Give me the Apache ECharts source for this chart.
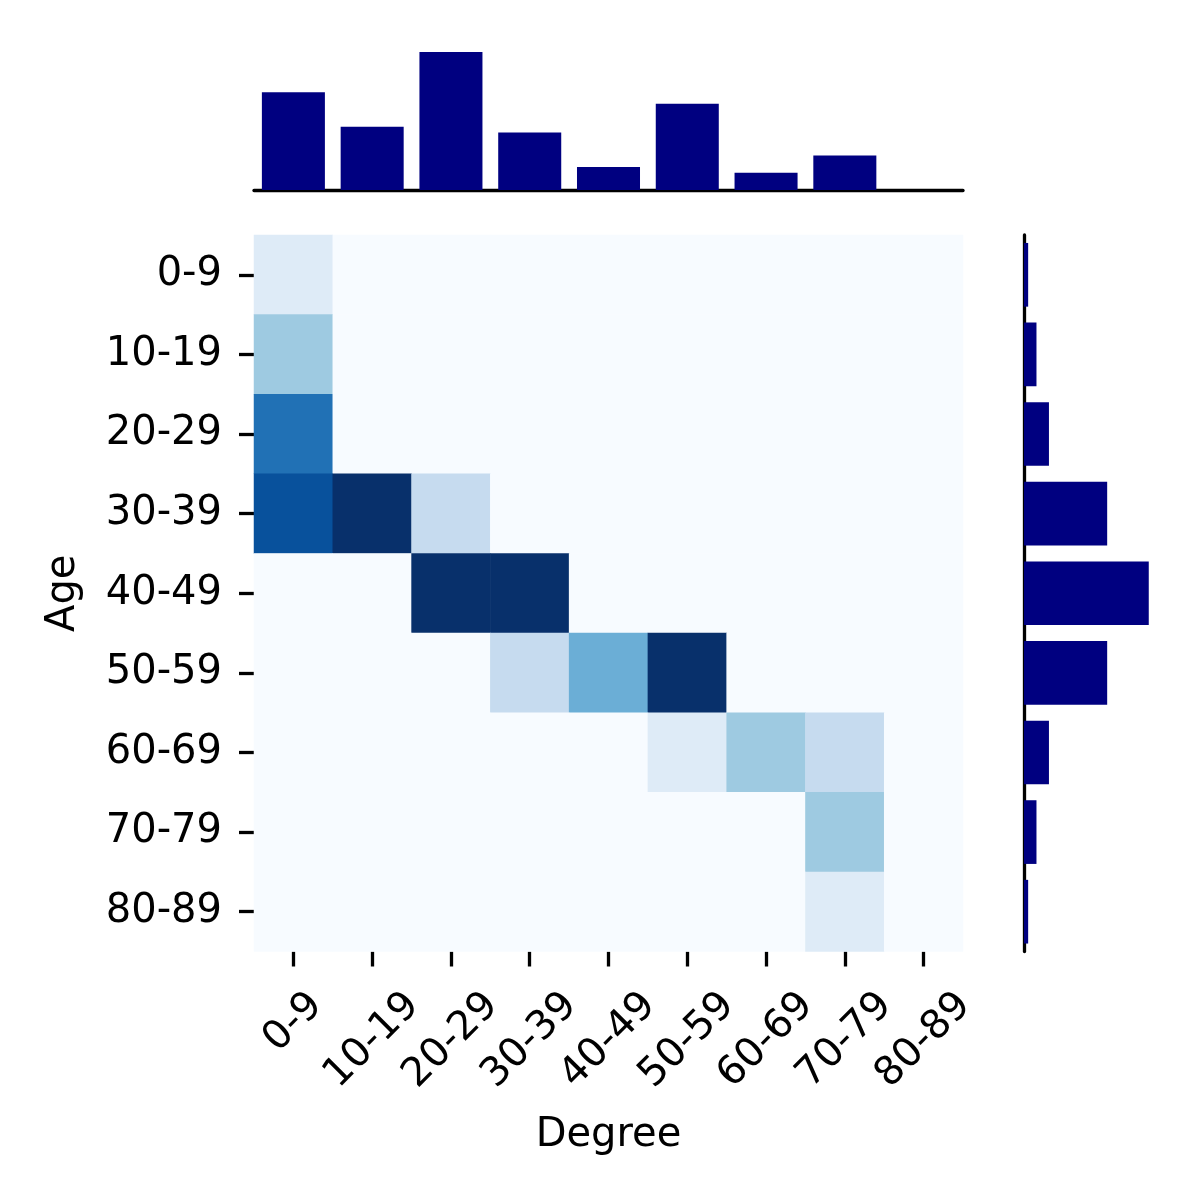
<!DOCTYPE html>
<html><head><meta charset="utf-8">
<script src="https://cdn.jsdelivr.net/npm/echarts@6/dist/echarts.min.js"></script>
<style>html,body{margin:0;padding:0;background:#fff}#c{width:1200px;height:1200px}</style>
</head><body><div id="c"></div>
<script>
// ---- data ----
const degreeLabels = ['0-9','10-19','20-29','30-39','40-49','50-59','60-69','70-79','80-89'];
const ageLabels    = ['0-9','10-19','20-29','30-39','40-49','50-59','60-69','70-79','80-89'];
// counts[ageRow][degreeCol]
const row0_9   = [1, 0, 0, 0, 0, 0, 0, 0, 0];
const row10_19 = [3, 0, 0, 0, 0, 0, 0, 0, 0];
const row20_29 = [6, 0, 0, 0, 0, 0, 0, 0, 0];
const row30_39 = [7, 11, 2, 0, 0, 0, 0, 0, 0];
const row40_49 = [0, 0, 22, 8, 0, 0, 0, 0, 0];
const row50_59 = [0, 0, 0, 2, 4, 14, 0, 0, 0];
const row60_69 = [0, 0, 0, 0, 0, 1, 3, 2, 0];
const row70_79 = [0, 0, 0, 0, 0, 0, 0, 3, 0];
const row80_89 = [0, 0, 0, 0, 0, 0, 0, 1, 0];
const counts = [row0_9,row10_19,row20_29,row30_39,row40_49,row50_59,row60_69,row70_79,row80_89];
const vmax = 8;
const blues = ['#f7fbff','#deebf7','#c6dbef','#9ecae1','#6baed6','#4292c6','#2171b5','#08519c','#08306b'];
const barColor = '#000080';

// ---- derived ----
const heatData = [];
counts.forEach((row, r) => row.forEach((v, c) => heatData.push([c, r, Math.min(v, vmax)])));
const colSums = degreeLabels.map((_, c) => counts.reduce((s, row) => s + row[c], 0));
const rowSums = counts.map(row => row.reduce((s, v) => s + v, 0));

const FONT = 'DejaVu Sans';
const FS = 40;
const cv = document.createElement('canvas').getContext('2d');
cv.font = FS + 'px "' + FONT + '"';
const rich = {};
degreeLabels.forEach((lab, i) => {
  const q = cv.measureText(lab).width / 2;
  rich['l' + i] = { fontSize: FS, fontFamily: FONT, color: '#000', padding: [q, q, 0, 0] };
});

const chart = echarts.init(document.getElementById('c'), null, { renderer: 'canvas' });
const lw = 3.3;
chart.setOption({
  animation: false,
  backgroundColor: '#fff',
  textStyle: { fontFamily: FONT },
  grid: [
    { left: 254, top: 235, width: 709, height: 716.5 },   // heatmap
    { left: 254, top: 45, width: 709, height: 145 },      // top marginal
    { left: 1024, top: 235, width: 131, height: 716.5 }   // right marginal
  ],
  xAxis: [
    { gridIndex: 0, type: 'category', data: degreeLabels,
      name: 'Degree', nameLocation: 'middle', nameGap: 164,
      nameTextStyle: { fontSize: FS, fontFamily: FONT, color: '#000' },
      axisLine: { show: false },
      axisTick: { show: true, alignWithLabel: true, length: 15, interval: 0, lineStyle: { color: '#000', width: lw } },
      axisLabel: { interval: 0, rotate: 45, align: 'center', verticalAlign: 'middle', margin: 48,
        fontSize: FS, fontFamily: FONT, color: '#000',
        formatter: (v, i) => '{l' + i + '|' + v + '}', rich: rich },
      splitLine: { show: false } },
    { gridIndex: 1, type: 'category', data: degreeLabels,
      axisLine: { show: true, lineStyle: { color: '#000', width: lw } },
      axisTick: { show: false }, axisLabel: { show: false }, splitLine: { show: false } },
    { gridIndex: 2, type: 'value', min: 0, max: Math.max(...rowSums) * 1.05, show: false }
  ],
  yAxis: [
    { gridIndex: 0, type: 'category', data: ageLabels, inverse: true,
      name: 'Age', nameLocation: 'middle', nameGap: 170, nameRotate: 90,
      nameTextStyle: { fontSize: FS, fontFamily: FONT, color: '#000' },
      axisLine: { show: false },
      axisTick: { show: true, alignWithLabel: true, length: 15, interval: 0, lineStyle: { color: '#000', width: lw } },
      axisLabel: { interval: 0, margin: 32, fontSize: FS, fontFamily: FONT, color: '#000' },
      splitLine: { show: false } },
    { gridIndex: 1, type: 'value', min: 0, max: Math.max(...colSums) * 1.05, show: false },
    { gridIndex: 2, type: 'category', data: ageLabels, inverse: true,
      axisLine: { show: true, lineStyle: { color: '#000', width: lw } },
      axisTick: { show: false }, axisLabel: { show: false }, splitLine: { show: false } }
  ],
  visualMap: { type: 'continuous', min: 0, max: vmax, show: false, seriesIndex: 0, inRange: { color: blues } },
  series: [
    { type: 'heatmap', xAxisIndex: 0, yAxisIndex: 0, data: heatData, itemStyle: { borderWidth: 0 } },
    { type: 'bar', xAxisIndex: 1, yAxisIndex: 1, data: colSums, barCategoryGap: '20%', itemStyle: { color: barColor } },
    { type: 'bar', xAxisIndex: 2, yAxisIndex: 2, data: rowSums, barCategoryGap: '20%', itemStyle: { color: barColor } }
  ]
});
</script>
</body></html>
